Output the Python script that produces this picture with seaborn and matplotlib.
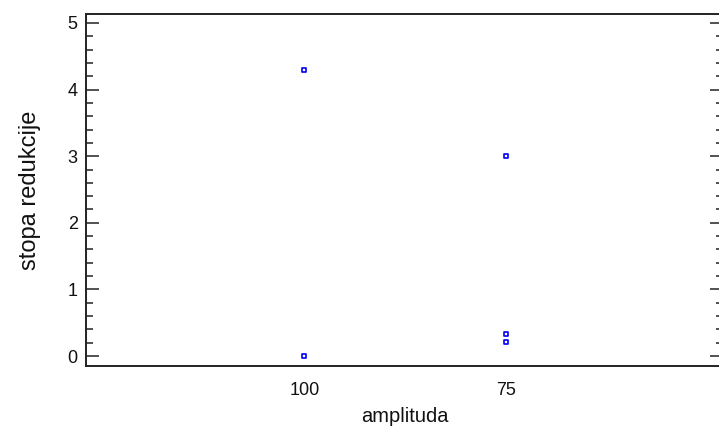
import numpy as np
import pandas as pd
import matplotlib
matplotlib.use("Agg")
import matplotlib.pyplot as plt
import seaborn as sns
from matplotlib.ticker import MultipleLocator

# ---------------------------------------------------------------------------
# Data
# ---------------------------------------------------------------------------
amplituda = ["100", "100", "75", "75", "75"]
stopa_redukcije = [4.3, 0.0, 3.0, 0.33, 0.21]

df = pd.DataFrame({"amplituda": amplituda, "stopa redukcije": stopa_redukcije})

sns.set_style("white")
plt.rcParams["font.family"] = ["Liberation Sans", "DejaVu Sans"]

fig = plt.figure(figsize=(7.19, 4.30), dpi=100)
ax = fig.add_axes([86 / 719, 1 - 366 / 430, (723 - 86) / 719, (366 - 14) / 430])

sns.scatterplot(
    data=df,
    x="amplituda",
    y="stopa redukcije",
    marker="s",
    s=12,
    facecolor="white",
    edgecolor="#0000ff",
    linewidth=1.2,
    ax=ax,
)

ax.set_xlim(-1.085, 2.08)
ax.set_ylim(-0.15, 5.135)
ax.yaxis.set_major_locator(MultipleLocator(1))
ax.yaxis.set_minor_locator(MultipleLocator(0.2))

for side in ["left", "right", "top", "bottom"]:
    ax.spines[side].set_color("#222222")
    ax.spines[side].set_linewidth(1.4)

ax.tick_params(axis="y", which="major", direction="in", length=9.5, width=1.1,
               left=True, right=True, labelsize=13, pad=6, color="#222222",
               labelcolor="#111111")
ax.tick_params(axis="y", which="minor", direction="in", length=5, width=1.1,
               left=True, right=True, color="#222222")
ax.tick_params(axis="x", which="both", bottom=False, labelsize=13, pad=8,
               labelcolor="#111111")

ax.set_xlabel("amplituda", fontsize=14.5, labelpad=6, color="#111111")
ax.set_ylabel("stopa redukcije", fontsize=17, labelpad=19, color="#111111")

fig.savefig("out.png", dpi=100)
